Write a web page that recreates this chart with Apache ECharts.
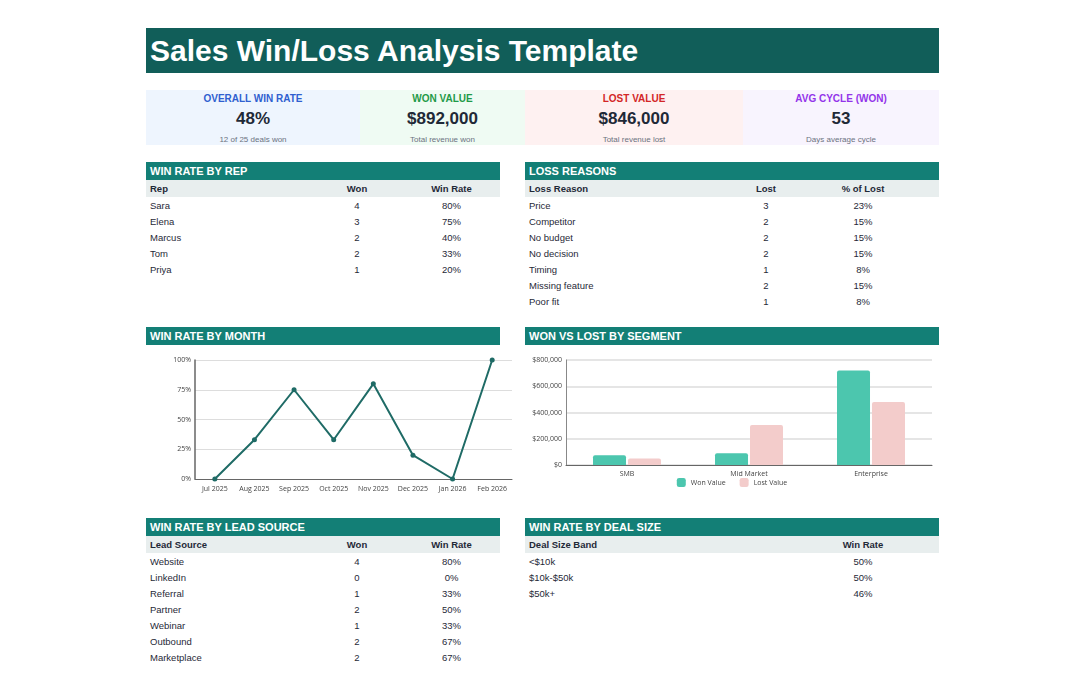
<!DOCTYPE html>
<html>
<head>
<meta charset="utf-8">
<script src="https://cdn.jsdelivr.net/npm/echarts@6/dist/echarts.min.js"></script>
<style>
  body { margin: 0; background: #fff; font-family: "Liberation Sans", Arial, sans-serif; color: #1f2937; }
  .abs { position: absolute; }
  .title { left: 146px; top: 28px; width: 793px; height: 45px; background: #115e59; color: #fff;
    font-size: 30px; font-weight: bold; line-height: 45px; padding-left: 4px; box-sizing: border-box; }
  .kpi { top: 90px; height: 55px; text-align: center; }
  .kpi .l { font-size: 10px; font-weight: bold; margin-top: 3px; }
  .kpi .v { font-size: 17px; font-weight: bold; color: #1f2937; margin-top: 5px; }
  .kpi .s { font-size: 8px; color: #6b7280; margin-top: 6px; }
  .sec { background: #137f76; color: #fff; font-size: 11px; font-weight: bold; height: 18px; line-height: 19px; padding-left: 4px; }
  table { border-collapse: collapse; table-layout: fixed; font-size: 9.5px; width: 100%; }
  th { background: #e8eeee; font-weight: bold; height: 17px; padding: 0; }
  td { height: 16px; padding: 0; }
  th:first-child, td:first-child { text-align: left; padding-left: 4px; }
  .c { text-align: center; }
  .pr { padding-right: 20px; }
</style>
</head>
<body>
<div class="abs title">Sales Win/Loss Analysis Template</div>
<div id="kpis"></div>
<div id="tables"></div>
<div class="abs" style="left:146px;top:327px;width:354px"><div class="sec">WIN RATE BY MONTH</div></div>
<div class="abs" style="left:525px;top:327px;width:414px"><div class="sec">WON VS LOST BY SEGMENT</div></div>
<div id="line" class="abs" style="left:146px;top:345px;width:370px;height:155px"></div>
<div id="bar" class="abs" style="left:525px;top:345px;width:414px;height:155px"></div>
<script>
// --- data ---
const kpiLabels = ["OVERALL WIN RATE", "WON VALUE", "LOST VALUE", "AVG CYCLE (WON)"];
const kpiValues = ["48%", "$892,000", "$846,000", "53"];
const kpiSubs = ["12 of 25 deals won", "Total revenue won", "Total revenue lost", "Days average cycle"];

const reps = ["Sara", "Elena", "Marcus", "Tom", "Priya"];
const repWon = [4, 3, 2, 2, 1];
const repRate = ["80%", "75%", "40%", "33%", "20%"];

const lossReasons = ["Price", "Competitor", "No budget", "No decision", "Timing", "Missing feature", "Poor fit"];
const lossCount = [3, 2, 2, 2, 1, 2, 1];
const lossPct = ["23%", "15%", "15%", "15%", "8%", "15%", "8%"];

const months = ["Jul 2025", "Aug 2025", "Sep 2025", "Oct 2025", "Nov 2025", "Dec 2025", "Jan 2026", "Feb 2026"];
const monthRate = [0, 33, 75, 33, 80, 20, 0, 100];

const segments = ["SMB", "Mid Market", "Enterprise"];
const wonValue = [75000, 90000, 720000];
const lostValue = [50000, 305000, 480000];

const sources = ["Website", "LinkedIn", "Referral", "Partner", "Webinar", "Outbound", "Marketplace"];
const sourceWon = [4, 0, 1, 2, 1, 2, 2];
const sourceRate = ["80%", "0%", "33%", "50%", "33%", "67%", "67%"];

const sizeBands = ["<$10k", "$10k-$50k", "$50k+"];
const sizeRate = ["50%", "50%", "46%"];

// --- KPI cards ---
const kpiBox = [[146, 214, "#eef5fe", "#2f5fd0"], [360, 165, "#effbf3", "#1f9a48"],
  [525, 218, "#fef1f1", "#d32626"], [743, 196, "#f8f4fe", "#9333ea"]];
document.getElementById("kpis").innerHTML = kpiBox.map((b, i) =>
  `<div class="abs kpi" style="left:${b[0]}px;width:${b[1]}px;background:${b[2]}">
    <div class="l" style="color:${b[3]}">${kpiLabels[i]}</div>
    <div class="v">${kpiValues[i]}</div><div class="s">${kpiSubs[i]}</div></div>`).join("");

// --- tables ---
function section(left, top, width, title, heads, widths, rows) {
  const cols = widths.map((w) => `<col style="width:${w}px">`).join("");
  const cls = (j) => (j === 0 ? "" : "c" + (j === heads.length - 1 && width > 400 ? " pr" : ""));
  const th = heads.map((h, j) => `<th class="${cls(j)}">${h}</th>`).join("");
  const tr = rows.map((r) => "<tr>" + r.map((v, j) => `<td class="${cls(j)}">${v}</td>`).join("") + "</tr>").join("");
  return `<div class="abs" style="left:${left}px;top:${top}px;width:${width}px">
    <div class="sec">${title}</div><table><colgroup>${cols}</colgroup><tr>${th}</tr>${tr}</table></div>`;
}
document.getElementById("tables").innerHTML =
  section(146, 162, 354, "WIN RATE BY REP", ["Rep", "Won", "Win Rate"], [165, 92, 97],
    reps.map((r, i) => [r, repWon[i], repRate[i]])) +
  section(525, 162, 414, "LOSS REASONS", ["Loss Reason", "Lost", "% of Lost"], [200, 82, 132],
    lossReasons.map((r, i) => [r, lossCount[i], lossPct[i]])) +
  section(146, 518, 354, "WIN RATE BY LEAD SOURCE", ["Lead Source", "Won", "Win Rate"], [165, 92, 97],
    sources.map((r, i) => [r, sourceWon[i], sourceRate[i]])) +
  section(525, 518, 414, "WIN RATE BY DEAL SIZE", ["Deal Size Band", "Win Rate"], [282, 132],
    sizeBands.map((r, i) => [r, sizeRate[i]]));

// --- charts ---
const axisFont = { fontFamily: "Open Sans", fontSize: 7, color: "#444" };
const line = echarts.init(document.getElementById("line"));
line.setOption({
  animation: false,
  grid: { left: 49, right: 4, top: 15, bottom: 21 },
  xAxis: { type: "category", data: months, boundaryGap: true,
    axisLine: { lineStyle: { color: "#666" } }, axisTick: { show: false },
    axisLabel: Object.assign({ margin: 6, interval: 0 }, axisFont) },
  yAxis: { type: "value", min: 0, max: 100, interval: 25,
    axisLine: { show: true, lineStyle: { color: "#666", width: 1.5 } },
    splitLine: { lineStyle: { color: "#ddd" } },
    axisLabel: Object.assign({ formatter: "{value}%", margin: 4 }, axisFont) },
  series: [{ type: "line", data: monthRate, symbol: "circle", symbolSize: 5,
    lineStyle: { color: "#1f6b66", width: 2 }, itemStyle: { color: "#1f6b66" } }]
});
const bar = echarts.init(document.getElementById("bar"));
bar.setOption({
  animation: false,
  grid: { left: 41, right: 7, top: 15, bottom: 35 },
  legend: { bottom: 8, itemWidth: 9, itemHeight: 9, itemGap: 14,
    textStyle: { fontFamily: "Open Sans", fontSize: 7, color: "#444" } },
  xAxis: { type: "category", data: segments, axisTick: { show: false },
    axisLine: { lineStyle: { color: "#666" } }, axisLabel: Object.assign({ margin: 5 }, axisFont) },
  yAxis: { type: "value", min: 0, max: 800000, interval: 200000,
    axisLine: { show: true, lineStyle: { color: "#888" } },
    splitLine: { lineStyle: { color: "#ddd", width: 1.5 } },
    axisLabel: Object.assign({ formatter: (v) => "$" + v.toLocaleString("en-US"), margin: 4 }, axisFont) },
  series: [
    { name: "Won Value", type: "bar", data: wonValue, barWidth: 33, barGap: "6%",
      itemStyle: { color: "#4cc6ae", borderRadius: [2, 2, 0, 0] } },
    { name: "Lost Value", type: "bar", data: lostValue, barWidth: 33,
      itemStyle: { color: "#f3cccb", borderRadius: [2, 2, 0, 0] } }
  ]
});
</script>
</body>
</html>
